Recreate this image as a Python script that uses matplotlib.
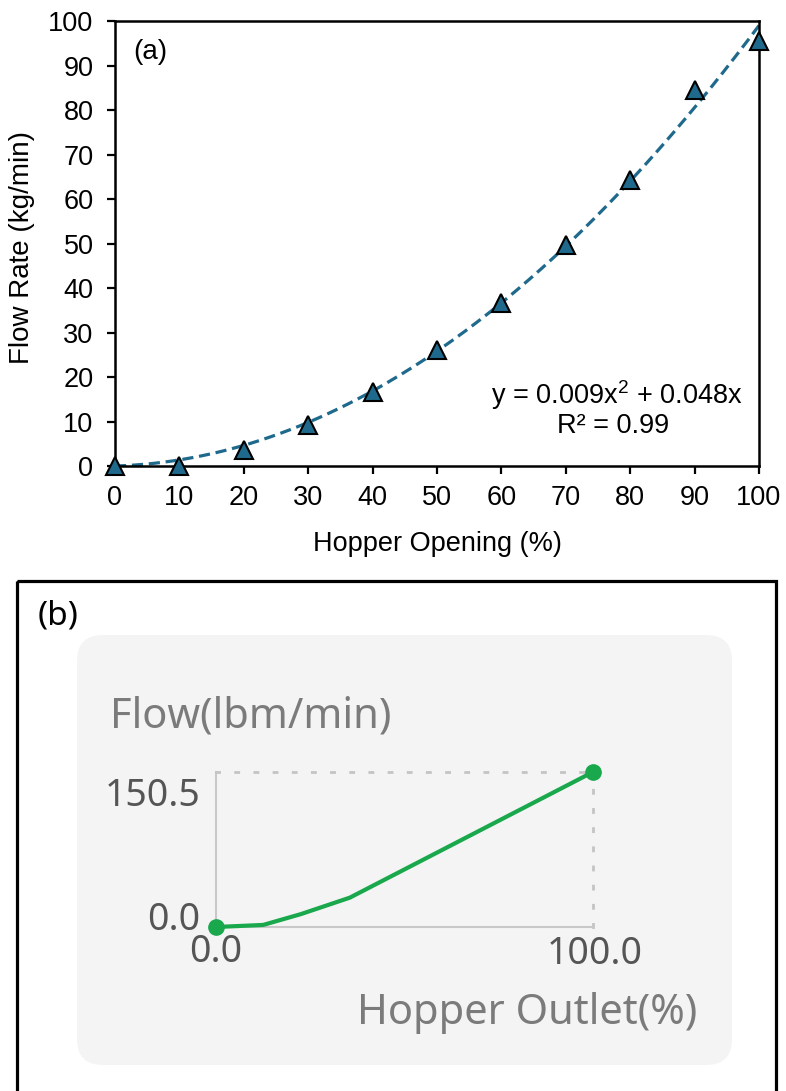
import matplotlib
matplotlib.use("Agg")
import matplotlib.pyplot as plt
from matplotlib.patches import FancyBboxPatch, Rectangle
import numpy as np

# panel (a) data: hopper opening vs measured flow rate
opening = [0, 10, 20, 30, 40, 50, 60, 70, 80, 90, 100]
flow_kg = [0.0, 0.0, 3.5, 9.2, 16.6, 26.0, 36.6, 49.7, 64.3, 84.5, 95.6]
eq_text = "y = 0.009x$^{2}$ + 0.048x"
r2_text = "R² = 0.99"

# panel (b) data: HMI trend display
outlet = [0, 12.5, 22.5, 35.5, 100]
flow_lbm = [0, 2.0, 12.5, 28.5, 150.5]

plt.rcParams["font.family"] = ["Liberation Sans", "DejaVu Sans"]
plt.rcParams["mathtext.fontset"] = "custom"
plt.rcParams["mathtext.rm"] = "Liberation Sans"
plt.rcParams["mathtext.it"] = "Liberation Sans"

W, H = 786, 1091
fs = 19.5
fig = plt.figure(figsize=(W / 100, H / 100), dpi=100)

# ---- panel (a) ----
ax = fig.add_axes([115 / W, 1 - 466 / H, 644 / W, 445 / H])
blue = "#1f6a8c"
x = np.array(opening, float)
y = np.array(flow_kg, float)
# quadratic trendline through the origin, fitted to the points
A = np.column_stack([x ** 2, x])
coef = np.linalg.lstsq(A, y, rcond=None)[0]
xt = np.linspace(0, 100, 200)
ax.plot(xt, coef[0] * xt ** 2 + coef[1] * xt, color=blue, lw=2.3,
        ls=(0, (3.5, 1.8)), zorder=2)
ax.plot(x, y, ls="none", marker="^", ms=13.5, mfc=blue, mec="black",
        mew=1.5, zorder=3, clip_on=False)

ax.set_xlim(0, 100)
ax.set_ylim(0, 100)
ax.set_xticks(range(0, 101, 10))
ax.set_yticks(range(0, 101, 10))
for s in ax.spines.values():
    s.set_linewidth(1.8)
ax.tick_params(direction="out", length=5.5, width=1.6, labelsize=fs)
ax.tick_params(axis="x", pad=8)
ax.tick_params(axis="y", pad=10)
ax.set_xlabel("Hopper Opening (%)", fontsize=fs)
ax.set_ylabel("Flow Rate (kg/min)", fontsize=fs + 0.5)
ax.xaxis.set_label_coords(0.5, -0.145)
ax.yaxis.set_label_coords(-0.124, 0.49)
ax.text(0.028, 0.93, "(a)", transform=ax.transAxes, fontsize=fs + 0.5, va="center")
ax.text(0.974, 0.16, eq_text, transform=ax.transAxes, fontsize=fs,
        ha="right", va="center")
ax.text(0.773, 0.09, r2_text, transform=ax.transAxes, fontsize=fs,
        ha="center", va="center")

# ---- panel (b) ----
bg = fig.add_axes([0, 0, 1, 1], zorder=0)
bg.set_xlim(0, W)
bg.set_ylim(H, 0)
bg.axis("off")
bg.add_patch(Rectangle((17, 581), 759, 530, fill=False, ec="black", lw=2.3))
r = 26
bg.add_patch(FancyBboxPatch((77 + r, 635 + r), 655 - 2 * r, 430 - 2 * r,
                            boxstyle=f"round,pad={r}", fc="#f4f4f5", ec="none"))
bg.text(38, 616, "(b)", fontsize=24, va="center", family=["Noto Sans"])
bg.text(110, 727, "Flow(lbm/min)", fontsize=30, color="#7b7b7b",
        family=["Noto Sans"], va="baseline")
bg.text(697, 1024, "Hopper Outlet(%)", fontsize=30, color="#7b7b7b",
        family=["Noto Sans"], va="baseline", ha="right")

bx = fig.add_axes([216 / W, 1 - 927 / H, 377 / W, 155 / H], zorder=1)
bx.set_facecolor("none")
bx.set_xlim(0, 100)
bx.set_ylim(0, 150.5)
bx.set_xticks([])
bx.set_yticks([])
for side in ["left", "bottom"]:
    bx.spines[side].set_color("#c8c8c8")
    bx.spines[side].set_linewidth(1.5)
for side in ["top", "right"]:
    bx.spines[side].set_color("#c4c4c4")
    bx.spines[side].set_linewidth(2)
    bx.spines[side].set_linestyle((0, (1.1, 5.8)))
bx.plot(outlet, flow_lbm, color="#19a84c", lw=3, marker="o", ms=11,
        markevery=[0, len(outlet) - 1], clip_on=False, zorder=3)

tick_kw = dict(textcoords="offset pixels", fontsize=27, color="#555555",
               family=["Noto Sans"], va="center")
bx.annotate("150.5", xy=(0, 150.5), xytext=(-16, -24), ha="right", **tick_kw)
bx.annotate("0.0", xy=(0, 0), xytext=(-16, 7), ha="right", **tick_kw)
bx.annotate("0.0", xy=(0, 0), xytext=(0, -25), ha="center", **tick_kw)
bx.annotate("100.0", xy=(100, 0), xytext=(2, -27), ha="center", **tick_kw)

fig.savefig("out.png", dpi=100)
